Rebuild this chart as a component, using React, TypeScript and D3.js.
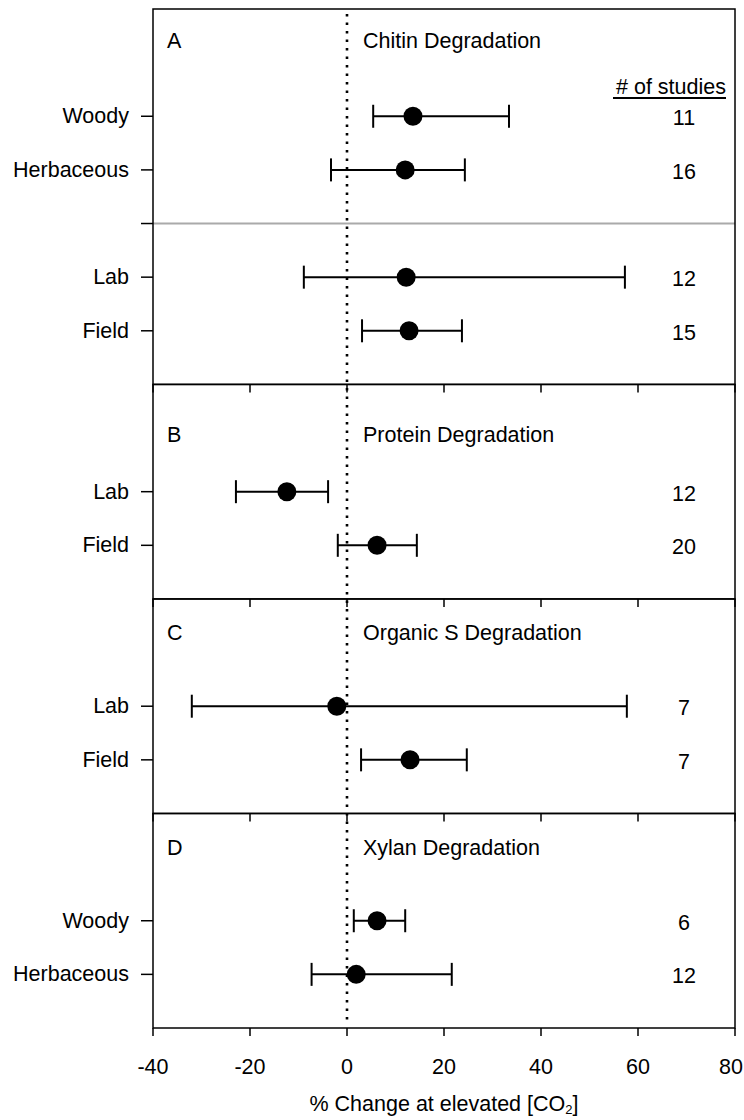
import React from 'react';
import * as d3 from 'd3';

// Effect sizes (% change at elevated CO2) with 95% CI, by enzyme panel
const panelIds = ['A', 'B', 'C', 'D'];
const panelTitles = ['Chitin Degradation', 'Protein Degradation', 'Organic S Degradation', 'Xylan Degradation'];
const rowLabels = [
  ['Woody', 'Herbaceous', 'Lab', 'Field'],
  ['Lab', 'Field'],
  ['Lab', 'Field'],
  ['Woody', 'Herbaceous'],
];
const means = [
  [13.6, 12.0, 12.2, 12.8],
  [-12.4, 6.2],
  [-2.1, 13.0],
  [6.2, 1.9],
];
const lowerCI = [
  [5.4, -3.3, -8.9, 3.1],
  [-22.9, -1.9],
  [-32.0, 2.9],
  [1.4, -7.3],
];
const upperCI = [
  [33.4, 24.3, 57.3, 23.7],
  [-3.9, 14.4],
  [57.7, 24.7],
  [12.0, 21.6],
];
const studies = [
  [11, 16, 12, 15],
  [12, 20],
  [7, 7],
  [6, 12],
];
const xTicks = [-40, -20, 0, 20, 40, 60, 80];

// Vertical layout in row slots
const rowSlots = [[2, 3, 5, 6], [9, 10], [13, 14], [17, 18]];
const panelEdges = [0, 7, 11, 15, 19];
const titleSlots = [0.6, 7.95, 11.63, 15.64];
const dividerSlot = 4;

const FONT = '"Liberation Sans", Arial, Helvetica, sans-serif';
const FS = 21.5;

export default function App() {
  const W = 744;
  const H = 1120;
  const x = d3.scaleLinear().domain([-40, 80]).range([153, 735]);
  const y = d3.scaleLinear().domain([0, 19]).range([9, 1028]);
  const capH = 11.5;
  const tickLen = 8;
  const x0 = x(-40);
  const x1 = x(80);
  const lastTick = xTicks[xTicks.length - 1];

  return (
    <svg
      width={W}
      height={H}
      viewBox={`0 0 ${W} ${H}`}
      style={{ position: 'absolute', left: 0, top: 0, background: '#fff' }}
      fontFamily={FONT}
    >
      <rect x={0} y={0} width={W} height={H} fill="#fff" />

      {/* divider between plant type and study type in panel A */}
      <line x1={x0} x2={x1} y1={y(dividerSlot)} y2={y(dividerSlot)} stroke="#aaaaaa" strokeWidth={2} />
      <line x1={x0 - 12} x2={x0} y1={y(dividerSlot)} y2={y(dividerSlot)} stroke="#000" strokeWidth={1.5} />

      {/* zero reference */}
      <line
        x1={x(0)}
        x2={x(0)}
        y1={y(0) + 5}
        y2={y(19) - 4}
        stroke="#000"
        strokeWidth={2.6}
        strokeDasharray="2.6 5.9"
      />

      {panelIds.map((id, p) => {
        const top = y(panelEdges[p]);
        const bottom = y(panelEdges[p + 1]);
        return (
          <g key={id}>
            <rect x={x0} y={top} width={x1 - x0} height={bottom - top} fill="none" stroke="#000" strokeWidth={1.5} />
            {xTicks.map((t) => (
              <line key={t} x1={x(t)} x2={x(t)} y1={bottom} y2={bottom + tickLen} stroke="#000" strokeWidth={1.5} />
            ))}
            <text x={167} y={y(titleSlots[p])} fontSize={FS} dominantBaseline="central">{id}</text>
            <text x={363} y={y(titleSlots[p])} fontSize={FS} dominantBaseline="central">{panelTitles[p]}</text>
            {rowLabels[p].map((lab, i) => {
              const cy = y(rowSlots[p][i]);
              return (
                <g key={lab + i}>
                  <line x1={x0 - 12} x2={x0} y1={cy} y2={cy} stroke="#000" strokeWidth={1.5} />
                  <text x={129} y={cy} fontSize={FS} textAnchor="end" dominantBaseline="central">{lab}</text>
                  <line x1={x(lowerCI[p][i])} x2={x(upperCI[p][i])} y1={cy} y2={cy} stroke="#000" strokeWidth={2} />
                  <line x1={x(lowerCI[p][i])} x2={x(lowerCI[p][i])} y1={cy - capH} y2={cy + capH} stroke="#000" strokeWidth={2} />
                  <line x1={x(upperCI[p][i])} x2={x(upperCI[p][i])} y1={cy - capH} y2={cy + capH} stroke="#000" strokeWidth={2} />
                  <circle cx={x(means[p][i])} cy={cy} r={9.5} fill="#000" />
                  <text x={684} y={cy + 2} fontSize={FS} textAnchor="middle" dominantBaseline="central">{studies[p][i]}</text>
                </g>
              );
            })}
          </g>
        );
      })}

      {/* study count header */}
      <text x={726} y={y(1.45)} fontSize={FS} textAnchor="end" dominantBaseline="central">
        # of studies
      </text>
      <line x1={613} x2={726} y1={98} y2={98} stroke="#000" strokeWidth={2} />

      {/* bottom axis labels */}
      {xTicks.map((t) => (
        <text
          key={t}
          x={t === lastTick ? 743 : x(t)}
          y={1067}
          fontSize={FS}
          textAnchor={t === lastTick ? 'end' : 'middle'}
          dominantBaseline="central"
        >
          {t}
        </text>
      ))}
      <text x={(x0 + x1) / 2} y={1104} fontSize={FS} textAnchor="middle" dominantBaseline="central">
        % Change at elevated [CO<tspan fontSize={13} dy={5}>2</tspan><tspan dy={-5}>]</tspan>
      </text>
    </svg>
  );
}
